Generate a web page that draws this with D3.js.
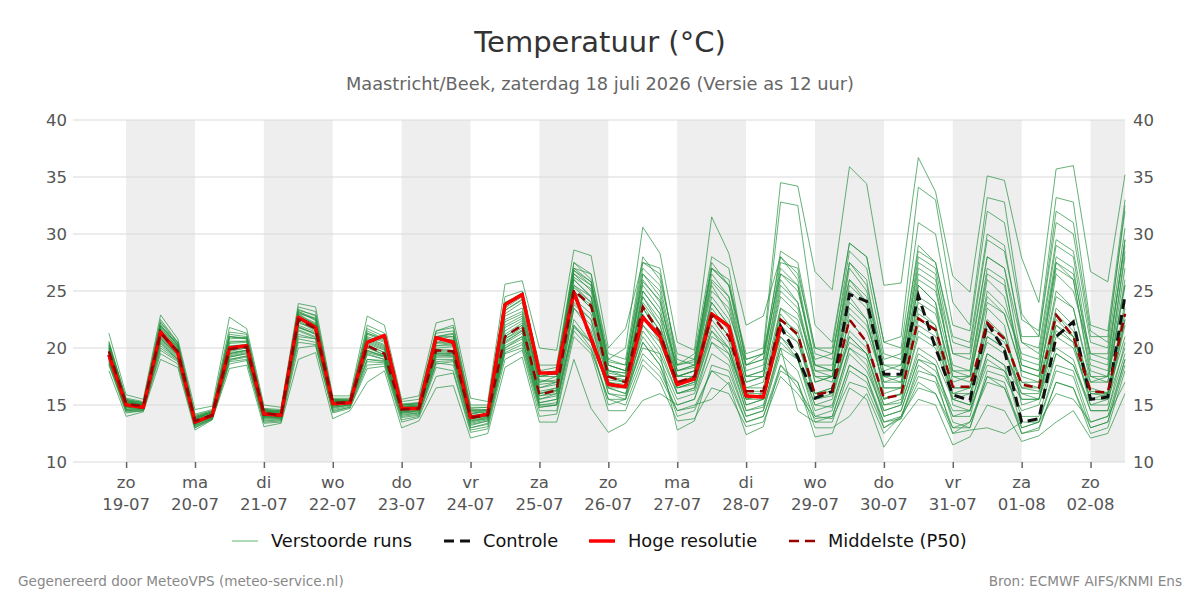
<!DOCTYPE html>
<html><head><meta charset="utf-8">
<script src="https://cdn.jsdelivr.net/npm/d3@7"></script>
<style>body{margin:0;background:#fff;} svg{display:block;font-family:"DejaVu Sans",sans-serif;}</style>
</head><body><svg id="chart" width="1200" height="600"></svg>
<script>
// ---- data ----
const firstStep = "2026-07-18T18:00:00Z";   // first forecast step
const stepHours = 6;
const dayNames = ["zo","ma","di","wo","do","vr","za","zo","ma","di","wo","do","vr","za","zo"];
const dayDates = ["19-07","20-07","21-07","22-07","23-07","24-07","25-07","26-07","27-07","28-07","29-07","30-07","31-07","01-08","02-08"];
const yTicks = [10,15,20,25,30,35,40];

const hiRes = [19.4,15.0,14.8,21.4,19.6,13.5,14.1,20.0,20.2,14.2,14.1,22.7,21.8,15.1,15.2,20.5,21.1,14.7,14.7,20.9,20.5,13.9,14.2,23.8,24.7,17.8,17.8,24.9,20.8,16.8,16.6,22.7,21.0,16.8,17.3,23.0,21.9,15.8,15.7,21.9];

const control = [19.4,15.0,14.8,21.4,19.6,13.5,14.1,20.0,20.2,14.2,14.1,22.7,21.8,15.1,15.2,20.5,21.1,14.7,14.7,20.9,20.5,13.9,14.2,23.8,24.7,17.8,17.8,24.9,20.8,16.8,16.6,22.7,21.0,16.8,17.3,23.0,21.9,15.8,15.7,21.9,
  19.2,15.6,16.2,24.7,24.1,17.7,17.7,24.6,20.0,15.9,15.4,22.2,19.8,13.5,13.8,21.0,22.3,15.5,15.7,24.6];

const p50 = [19.7,15.1,14.9,21.3,19.7,13.6,14.1,19.9,20.1,14.3,14.1,22.5,21.7,15.2,15.2,20.2,19.5,14.6,14.7,19.8,19.7,13.9,14.1,21.0,22.0,15.9,16.3,25.1,23.7,17.5,17.0,23.6,21.3,17.0,17.5,22.9,21.0,16.2,16.2,22.5,21.2,15.9,16.2,22.5,20.5,15.6,15.9,22.6,21.6,16.6,16.6,22.2,20.8,16.8,16.5,22.9,21.0,16.2,16.1,23.0];

const runs = [
 [20.5,15.4,15.0,22.0,20.2,13.9,14.3,21.0,20.8,14.5,14.2,23.2,22.4,15.5,15.4,21.5,20.8,14.9,15.0,21.0,21.3,14.4,14.5,23.5,24.5,17.5,17.8,27.5,26.0,18.5,18.0,26.0,24.0,18.0,18.5,27.0,25.5,19.5,20.0,34.5,34.2,26.7,25.1,35.9,34.4,25.5,25.7,36.7,33.7,26.3,24.9,35.1,34.7,27.9,24.0,35.7,36.0,26.7,25.8,35.2],
 [20.0,15.2,15.1,21.8,20.0,13.8,14.4,20.5,20.6,14.6,14.4,23.0,22.0,15.3,15.3,20.8,20.2,14.8,14.9,20.5,20.8,14.2,14.6,22.8,23.5,17.0,17.2,26.5,25.0,18.0,17.8,25.5,23.5,17.5,18.0,25.5,23.0,18.5,19.5,32.8,32.5,22.0,20.5,29.2,28.0,20.5,21.0,34.1,33.0,24.0,22.0,33.2,32.8,23.0,21.0,32.0,31.0,21.5,20.5,32.5],
 [18.6,14.6,14.7,20.2,19.0,13.4,13.9,19.2,19.5,13.9,13.9,21.0,20.8,14.8,15.0,19.0,18.8,14.0,14.2,18.8,18.9,13.2,13.6,20.0,21.0,15.0,15.2,22.0,20.0,15.5,15.5,20.5,18.5,14.0,14.5,18.0,16.8,12.4,13.1,18.5,17.0,12.2,12.5,16.5,15.5,11.3,13.5,15.5,15.0,11.5,12.2,15.0,14.5,11.8,12.3,13.5,14.5,12.1,12.5,16.0],
 [18.0,14.0,14.4,19.0,18.3,12.8,13.7,18.2,18.5,13.1,13.4,19.0,19.6,13.8,14.5,17.0,18.0,13.0,13.6,16.5,16.7,12.1,12.5,18.3,19.2,13.5,13.5,19.0,14.7,12.6,13.4,15.4,16.0,15.0,15.5,20.5,19.5,15.5,16.0,21.0,19.0,14.5,15.0,20.0,19.0,14.0,14.5,19.0,18.5,13.5,13.0,18.0,17.5,14.5,15.0,19.5,18.5,15.0,15.5,20.0],
 [19.8,15.3,15.0,21.5,19.8,13.7,14.2,20.0,20.2,14.4,14.2,22.6,21.8,15.2,15.3,20.6,20.0,14.7,14.8,20.5,20.3,14.0,14.3,22.0,22.8,17.0,17.5,26.5,25.5,19.0,20.0,30.6,28.3,20.5,19.8,31.5,28.3,22.0,22.8,28.0,26.0,18.5,18.0,27.5,26.0,17.5,17.0,25.5,24.0,18.0,17.5,26.0,24.5,18.5,18.0,27.0,26.0,17.5,17.5,28.5],
 [21.3,15.9,15.5,22.9,20.8,14.6,14.9,22.7,21.7,15.0,14.8,23.9,23.6,15.8,15.8,22.8,22.0,15.5,15.8,22.2,22.6,15.6,15.3,25.6,25.9,20.0,19.8,28.6,28.1,20.0,21.7,27.5,26.5,19.0,18.5,26.0,24.5,17.5,18.0,26.5,25.0,19.0,19.5,26.0,24.0,18.0,18.5,27.0,26.0,19.5,19.0,28.0,27.0,20.5,19.5,29.0,28.0,19.0,18.5,29.5],
 [19.2,14.8,14.7,20.8,19.3,13.3,13.9,19.5,19.8,14.0,13.9,21.8,21.2,14.9,15.1,19.8,19.2,14.3,14.5,19.5,19.4,13.5,13.8,20.5,21.5,15.2,15.5,22.0,20.5,16.5,16.0,20.0,19.5,16.0,16.5,21.0,20.0,15.0,15.5,21.5,20.5,16.0,16.5,20.5,19.5,14.5,15.0,20.0,19.0,15.5,15.0,19.5,18.5,16.0,15.5,21.0,20.0,15.5,16.0,21.0],
 [19.0,14.5,14.6,20.5,19.0,13.2,13.8,19.0,19.3,13.7,13.7,21.5,20.9,14.6,14.9,19.5,19.0,14.1,14.3,18.6,18.8,13.0,13.4,19.8,20.5,14.8,15.0,23.5,21.5,16.0,15.8,21.5,19.5,12.8,13.6,18.5,18.0,14.0,14.5,20.0,14.5,13.5,14.0,18.5,17.5,13.0,14.0,18.0,17.5,12.5,13.5,17.5,17.0,12.5,12.8,17.0,16.5,13.0,13.5,18.5],
 [20.3,15.5,15.2,22.2,20.4,14.0,14.5,21.2,21.0,14.6,14.5,23.0,22.6,15.5,15.5,21.3,20.8,15.0,15.2,21.3,21.5,14.8,14.8,24.0,24.6,18.0,18.3,27.0,25.8,18.8,18.5,27.0,25.5,18.5,18.8,27.5,25.5,18.0,18.5,27.5,27.0,19.5,19.0,28.5,27.0,19.5,19.0,29.0,27.5,20.5,20.0,29.5,28.5,21.0,21.0,31.0,30.0,21.0,21.0,32.0],
 [19.5,15.0,14.9,21.2,19.6,13.5,14.1,19.7,20.0,14.2,14.0,22.3,21.5,15.1,15.2,20.0,19.4,14.5,14.6,19.6,19.5,13.8,14.0,21.0,22.0,16.0,16.5,25.0,23.5,17.5,17.0,23.5,21.0,17.0,17.5,23.0,21.0,16.0,16.0,22.5,21.5,16.0,16.5,22.5,20.5,15.5,16.0,23.0,22.0,16.5,16.5,22.0,21.0,17.0,16.5,23.0,21.5,16.0,16.0,23.5],
 [19.9,15.2,15.0,21.6,20.0,13.8,14.3,20.4,20.5,14.3,14.2,22.9,22.2,15.3,15.3,20.9,20.3,14.8,14.9,20.2,20.4,14.3,14.4,22.5,23.2,17.2,17.0,26.0,24.5,17.0,16.5,25.0,23.0,16.5,17.0,24.5,22.5,17.0,17.5,25.0,23.5,17.5,17.0,24.5,22.5,16.5,16.5,24.5,23.5,17.0,17.5,24.0,23.0,18.0,17.5,25.0,23.5,17.5,17.0,26.0],
 [19.3,14.9,14.8,20.9,19.4,13.4,14.0,19.4,19.7,14.1,14.0,22.0,21.4,15.0,15.1,19.4,19.0,14.4,14.5,19.0,19.0,13.6,13.9,20.8,21.6,15.5,16.0,24.0,22.5,17.0,16.5,22.0,20.5,16.5,17.0,21.5,20.0,15.5,15.5,21.0,19.5,15.0,15.5,21.0,19.5,15.0,15.5,21.0,20.0,15.5,16.0,21.0,20.0,16.0,16.0,21.5,20.5,15.5,15.5,22.0],
 [20.1,15.3,15.1,21.9,20.2,13.9,14.4,20.8,20.9,14.5,14.3,23.4,22.8,15.4,15.4,21.0,20.5,15.0,15.1,21.0,21.0,14.6,14.6,23.0,24.0,16.5,17.0,26.0,24.5,17.5,17.5,24.5,22.0,17.5,18.0,24.0,22.0,17.0,17.5,24.5,23.0,18.5,18.5,26.0,24.5,18.5,18.0,27.5,26.5,17.5,17.0,25.0,23.5,19.5,19.0,28.0,27.0,18.5,18.0,28.0],
 [18.9,14.6,14.6,20.4,19.0,13.2,13.8,19.0,19.3,13.8,13.8,21.2,20.8,14.7,15.0,19.0,18.9,14.2,14.3,19.2,19.2,13.3,13.6,20.0,20.8,15.0,15.0,22.5,20.5,16.5,16.5,21.0,19.0,15.5,16.0,20.5,19.0,14.5,15.0,20.0,19.0,14.0,14.5,19.5,18.0,14.5,15.0,19.5,18.5,14.0,14.5,19.0,18.0,14.0,14.0,19.5,18.5,14.5,14.5,20.5],
 [19.6,15.1,14.9,21.0,19.5,13.6,14.1,19.8,20.0,14.2,14.1,22.4,21.6,15.2,15.2,20.3,19.6,14.6,14.7,19.9,19.8,13.9,14.1,21.2,22.2,16.0,16.3,25.3,24.0,18.0,17.5,24.0,22.0,16.0,16.5,22.0,20.0,15.0,15.5,23.5,22.5,17.0,17.5,25.0,23.5,16.0,16.5,25.5,24.0,15.5,15.0,23.5,22.0,15.0,15.5,22.5,21.0,17.0,17.5,25.5],
 [20.6,15.6,15.3,22.5,20.5,14.2,14.6,21.8,21.3,14.7,14.6,23.6,23.2,15.6,15.6,22.0,21.3,15.3,15.5,21.5,22.0,15.0,15.0,24.5,25.0,18.5,18.5,27.5,26.5,19.5,19.0,28.0,26.0,19.5,19.0,27.0,26.0,19.0,19.5,28.0,26.5,20.0,19.5,27.5,25.5,19.0,19.5,28.5,27.5,21.0,20.5,30.0,29.0,20.5,20.0,29.5,28.5,20.5,20.0,30.5],
 [19.4,15.0,14.8,21.1,19.7,13.5,14.0,19.6,19.8,14.1,14.0,22.2,21.7,15.1,15.2,20.1,19.4,14.6,14.7,19.7,19.6,13.8,14.0,20.8,21.8,15.8,16.2,24.8,23.8,17.2,17.0,23.8,21.5,17.5,18.0,23.5,21.5,16.5,16.5,23.0,21.0,15.5,16.0,21.5,20.0,15.5,16.0,22.0,21.0,16.0,16.5,21.5,20.5,17.0,17.0,23.5,22.0,16.5,16.0,24.0],
 [19.0,14.7,14.7,20.7,19.2,13.3,13.9,19.2,19.5,13.9,13.8,21.6,21.0,14.8,15.0,19.6,19.2,14.3,14.4,19.3,19.3,13.4,13.7,20.2,21.0,15.2,15.5,23.5,22.0,16.5,16.0,20.5,18.5,15.0,15.5,19.5,18.5,14.0,14.5,19.5,18.0,13.5,13.5,18.0,17.0,13.5,14.0,17.5,17.0,13.0,13.5,17.0,16.5,13.0,13.5,18.0,17.5,13.0,13.5,19.0],
 [20.2,15.4,15.2,22.0,20.3,13.9,14.4,21.0,20.8,14.5,14.4,23.1,22.5,15.4,15.4,21.3,20.7,14.9,15.0,20.8,21.0,14.5,14.6,23.3,24.3,17.5,17.8,27.0,26.5,19.0,18.5,27.5,27.0,18.5,19.5,28.0,27.0,18.5,19.0,28.5,27.5,20.0,20.0,29.2,28.0,20.5,20.0,31.0,30.0,22.0,21.5,32.0,31.0,22.5,21.5,33.2,32.8,22.0,21.5,33.0],
 [18.7,14.4,14.5,19.8,18.8,13.0,13.8,18.8,19.0,13.5,13.6,20.5,20.3,14.4,14.8,18.5,18.6,13.7,14.0,18.3,18.0,12.8,13.1,19.5,20.0,14.5,14.5,21.5,19.8,15.5,15.0,19.0,17.5,14.5,14.8,18.0,17.5,13.5,14.0,18.5,16.5,14.0,13.8,17.0,16.5,13.0,13.8,17.0,16.0,13.0,13.0,17.5,16.5,12.5,13.0,17.0,16.5,12.5,13.0,18.0],
 [20.0,15.3,15.0,21.7,20.1,13.8,14.3,20.6,20.6,14.4,14.3,22.8,22.1,15.3,15.3,20.7,20.1,14.8,14.9,20.4,20.6,14.2,14.4,22.3,23.0,16.8,17.0,26.2,25.2,18.5,18.0,25.8,24.2,18.0,18.3,25.8,24.0,17.5,18.0,26.0,24.0,17.0,17.5,23.5,22.0,17.5,17.5,26.0,25.0,18.5,18.0,27.0,26.0,17.5,17.0,26.5,25.0,19.5,19.0,29.5],
 [19.1,14.8,14.7,20.6,19.1,13.4,13.9,19.3,19.6,14.0,13.9,21.9,21.2,14.9,15.1,19.8,19.3,14.4,14.5,19.4,19.3,13.6,13.8,20.4,21.3,15.5,15.8,24.3,23.0,17.0,16.8,23.0,20.5,16.5,16.8,22.5,20.5,15.5,15.8,22.0,20.5,15.5,15.8,21.0,19.5,15.0,15.2,21.5,20.5,16.0,16.0,20.5,19.5,16.5,16.2,22.0,21.0,16.0,15.8,22.5],
 [19.8,15.2,15.0,21.4,19.8,13.7,14.2,20.2,20.3,14.3,14.2,22.6,22.0,15.3,15.3,20.5,19.9,14.7,14.8,20.0,20.1,14.1,14.2,21.8,22.6,16.5,16.8,25.5,24.5,17.8,17.5,25.0,23.0,18.5,19.0,27.0,25.5,19.0,19.5,26.5,25.5,18.0,17.5,24.0,22.5,16.5,16.5,23.5,22.0,15.0,14.5,21.0,20.0,15.5,15.5,22.0,20.5,15.0,15.0,22.5],
 [18.8,14.5,14.5,20.0,18.9,13.1,13.8,18.9,19.2,13.6,13.7,20.8,20.5,14.5,14.8,18.8,18.7,13.9,14.1,18.7,18.5,13.0,13.3,19.6,20.3,14.8,15.0,21.8,20.5,15.0,15.5,19.5,18.0,14.5,15.0,15.5,17.0,13.5,14.0,18.0,17.0,13.0,13.0,14.0,16.0,12.5,14.0,16.5,16.0,12.5,12.8,13.0,12.5,13.5,13.5,16.0,15.5,13.5,14.0,17.0],
 [20.4,15.5,15.2,22.3,20.5,14.1,14.5,21.4,21.2,14.6,14.5,23.3,22.9,15.5,15.5,21.7,21.0,15.1,15.2,21.5,21.8,14.7,14.8,24.0,24.8,17.8,18.0,26.8,25.5,18.0,17.8,26.5,25.0,18.0,18.5,26.5,24.5,18.5,19.0,27.0,25.5,18.5,18.0,27.0,25.0,18.5,18.5,28.0,27.0,19.5,19.5,28.0,27.0,19.0,18.5,27.5,26.5,19.5,19.5,29.0],
 [19.5,15.0,14.9,21.3,19.6,13.6,14.1,19.9,20.1,14.3,14.1,22.5,21.8,15.2,15.2,20.2,19.6,14.6,14.7,19.8,19.7,13.9,14.1,21.0,22.0,16.0,16.3,25.0,23.5,17.5,17.0,23.5,21.5,17.0,17.5,23.0,21.0,16.2,16.2,22.5,21.0,16.0,16.2,22.5,20.5,15.6,15.9,22.5,21.5,16.5,16.5,22.5,21.0,16.5,16.5,23.0,21.0,16.2,16.1,23.0],
 [19.3,14.9,14.8,20.8,19.4,13.4,14.0,19.5,19.8,14.0,13.9,21.8,21.3,15.0,15.1,19.7,19.3,14.5,14.6,19.5,19.5,13.7,13.9,20.6,21.5,15.8,16.0,23.8,22.5,16.0,15.5,22.0,20.0,16.0,16.3,21.5,19.5,14.5,14.8,20.5,19.0,15.0,14.8,20.0,18.5,14.0,14.5,19.0,18.0,14.5,14.5,18.5,18.0,15.5,15.5,20.0,19.0,14.5,14.5,19.5],
 [20.2,15.4,15.1,22.0,20.3,14.0,14.4,21.0,20.9,14.5,14.4,23.2,22.6,15.4,15.4,21.2,20.6,15.0,15.1,21.0,21.2,14.5,14.5,23.3,24.2,17.5,17.5,26.8,25.8,18.5,18.0,26.5,24.5,17.5,18.0,25.0,23.5,17.5,17.5,25.5,24.0,18.0,18.0,25.5,24.0,17.0,17.5,26.5,25.5,18.0,18.0,26.5,25.5,18.5,18.0,27.5,26.0,18.0,17.5,27.0],
 [19.7,15.1,15.0,21.5,19.9,13.7,14.2,20.1,20.3,14.4,14.2,22.7,22.0,15.3,15.3,20.4,19.8,14.7,14.8,20.2,20.2,14.0,14.2,21.5,22.4,16.2,16.5,25.5,24.0,17.5,17.2,24.5,22.5,17.5,17.5,24.0,22.0,16.5,17.0,23.5,22.0,17.5,17.5,23.0,21.5,17.0,17.0,24.0,23.0,17.5,17.5,24.5,23.0,18.0,17.5,24.5,23.5,17.0,17.0,25.5],
 [18.5,14.3,14.5,19.5,18.6,13.0,13.7,18.6,18.9,13.4,13.5,20.0,20.2,14.3,14.7,18.2,18.4,13.5,13.9,17.5,17.8,12.6,12.9,19.0,19.8,14.0,14.2,21.0,19.5,14.5,14.5,18.5,17.0,13.6,13.8,16.5,16.0,13.1,13.5,17.5,16.0,13.8,14.0,18.5,17.5,13.5,13.8,18.5,17.5,14.0,14.0,19.5,18.5,13.0,13.5,18.5,18.0,13.5,14.0,19.0]
];

// ---- chart ----
const plot = {left: 73, right: 1125, top: 120, bottom: 462};
const svg = d3.select("#chart");
const t0 = new Date(firstStep).getTime();
const times = p50.map((_, i) => new Date(t0 + i * stepHours * 3600e3));
const tickDates = dayDates.map(s => new Date(Date.UTC(2026, +s.slice(3) - 1, +s.slice(0, 2))));

const x = d3.scaleUtc()
  .domain([new Date(Date.UTC(2026, 6, 18, 5, 30)), new Date(Date.UTC(2026, 7, 2, 12))])
  .range([plot.left, plot.right]);
const y = d3.scaleLinear().domain([10, 40]).range([plot.bottom, plot.top]);

// shaded alternate days
const bands = tickDates.filter((d, i) => i % 2 === 0);
svg.append("g").selectAll("rect").data(bands).join("rect")
  .attr("x", d => x(d))
  .attr("y", plot.top)
  .attr("width", d => Math.min(x(new Date(d.getTime() + 864e5)), plot.right) - x(d))
  .attr("height", plot.bottom - plot.top)
  .attr("fill", "#eeeeee");

// grid
svg.append("g").selectAll("line").data(yTicks).join("line")
  .attr("x1", plot.left).attr("x2", plot.right)
  .attr("y1", d => y(d)).attr("y2", d => y(d))
  .attr("stroke", "#d9d9d9").attr("stroke-width", 1);

// y axes
const yl = svg.append("g").attr("transform", `translate(${plot.left},0)`)
  .call(d3.axisLeft(y).tickValues(yTicks).tickSize(0).tickPadding(6));
const yr = svg.append("g").attr("transform", `translate(${plot.right},0)`)
  .call(d3.axisRight(y).tickValues(yTicks).tickSize(0).tickPadding(8));
[yl, yr].forEach(g => {
  g.select(".domain").remove();
  g.selectAll("text").attr("font-size", 16.5).attr("fill", "#555").attr("font-family", "DejaVu Sans");
});

// x axis
const xa = svg.append("g").attr("transform", `translate(0,${plot.bottom})`)
  .call(d3.axisBottom(x).tickValues(tickDates).tickSize(6).tickFormat(""));
xa.select(".domain").remove();
xa.selectAll("line").attr("stroke", "#666").attr("stroke-width", 1.5);
const xl = svg.append("g").selectAll("g").data(tickDates).join("g")
  .attr("transform", d => `translate(${x(d)},0)`);
xl.append("text").attr("y", 488).attr("text-anchor", "middle").attr("font-size", 16.5).attr("fill", "#555")
  .text((d, i) => dayNames[i]);
xl.append("text").attr("y", 510).attr("text-anchor", "middle").attr("font-size", 16.5).attr("fill", "#555")
  .text((d, i) => dayDates[i]);

// lines
const line = d3.line().defined(d => d != null).x((d, i) => x(times[i])).y(d => y(d));
svg.append("g").selectAll("path").data(runs).join("path")
  .attr("d", line).attr("fill", "none")
  .attr("stroke", "#25923e").attr("stroke-opacity", 0.7).attr("stroke-width", 1);
svg.append("path").datum(control).attr("d", line).attr("fill", "none")
  .attr("stroke", "#111").attr("stroke-width", 3).attr("stroke-dasharray", "10,6");
svg.append("path").datum(hiRes).attr("d", line).attr("fill", "none")
  .attr("stroke", "#ff0000").attr("stroke-width", 3.5).attr("stroke-linejoin", "round");
svg.append("path").datum(p50).attr("d", line).attr("fill", "none")
  .attr("stroke", "#990000").attr("stroke-width", 2.5).attr("stroke-dasharray", "9,6");

// titles
svg.append("text").attr("x", 600).attr("y", 52).attr("text-anchor", "middle")
  .attr("font-size", 29).attr("fill", "#333").text("Temperatuur (°C)");
svg.append("text").attr("x", 600).attr("y", 90).attr("text-anchor", "middle")
  .attr("font-size", 17.8).attr("fill", "#666").text("Maastricht/Beek, zaterdag 18 juli 2026 (Versie as 12 uur)");

// legend
const legend = [
  {label: "Verstoorde runs", x: 232, stroke: "#5fb56f", w: 1, dash: null},
  {label: "Controle", x: 444, stroke: "#111", w: 3, dash: "10,6"},
  {label: "Hoge resolutie", x: 589, stroke: "#ff0000", w: 3.5, dash: null},
  {label: "Middelste (P50)", x: 789, stroke: "#990000", w: 2.5, dash: "10,6"}
];
const lg = svg.append("g").selectAll("g").data(legend).join("g");
lg.append("line").attr("x1", d => d.x).attr("x2", d => d.x + 26).attr("y1", 541).attr("y2", 541)
  .attr("stroke", d => d.stroke).attr("stroke-width", d => d.w).attr("stroke-dasharray", d => d.dash);
lg.append("text").attr("x", d => d.x + 39).attr("y", 547).attr("font-size", 17.8).attr("fill", "#111")
  .text(d => d.label);

// footer
svg.append("text").attr("x", 18).attr("y", 586).attr("font-size", 13.6).attr("fill", "#888")
  .text("Gegenereerd door MeteoVPS (meteo-service.nl)");
svg.append("text").attr("x", 1182).attr("y", 586).attr("text-anchor", "end").attr("font-size", 13.6).attr("fill", "#888")
  .text("Bron: ECMWF AIFS/KNMI Ens");
</script></body></html>
